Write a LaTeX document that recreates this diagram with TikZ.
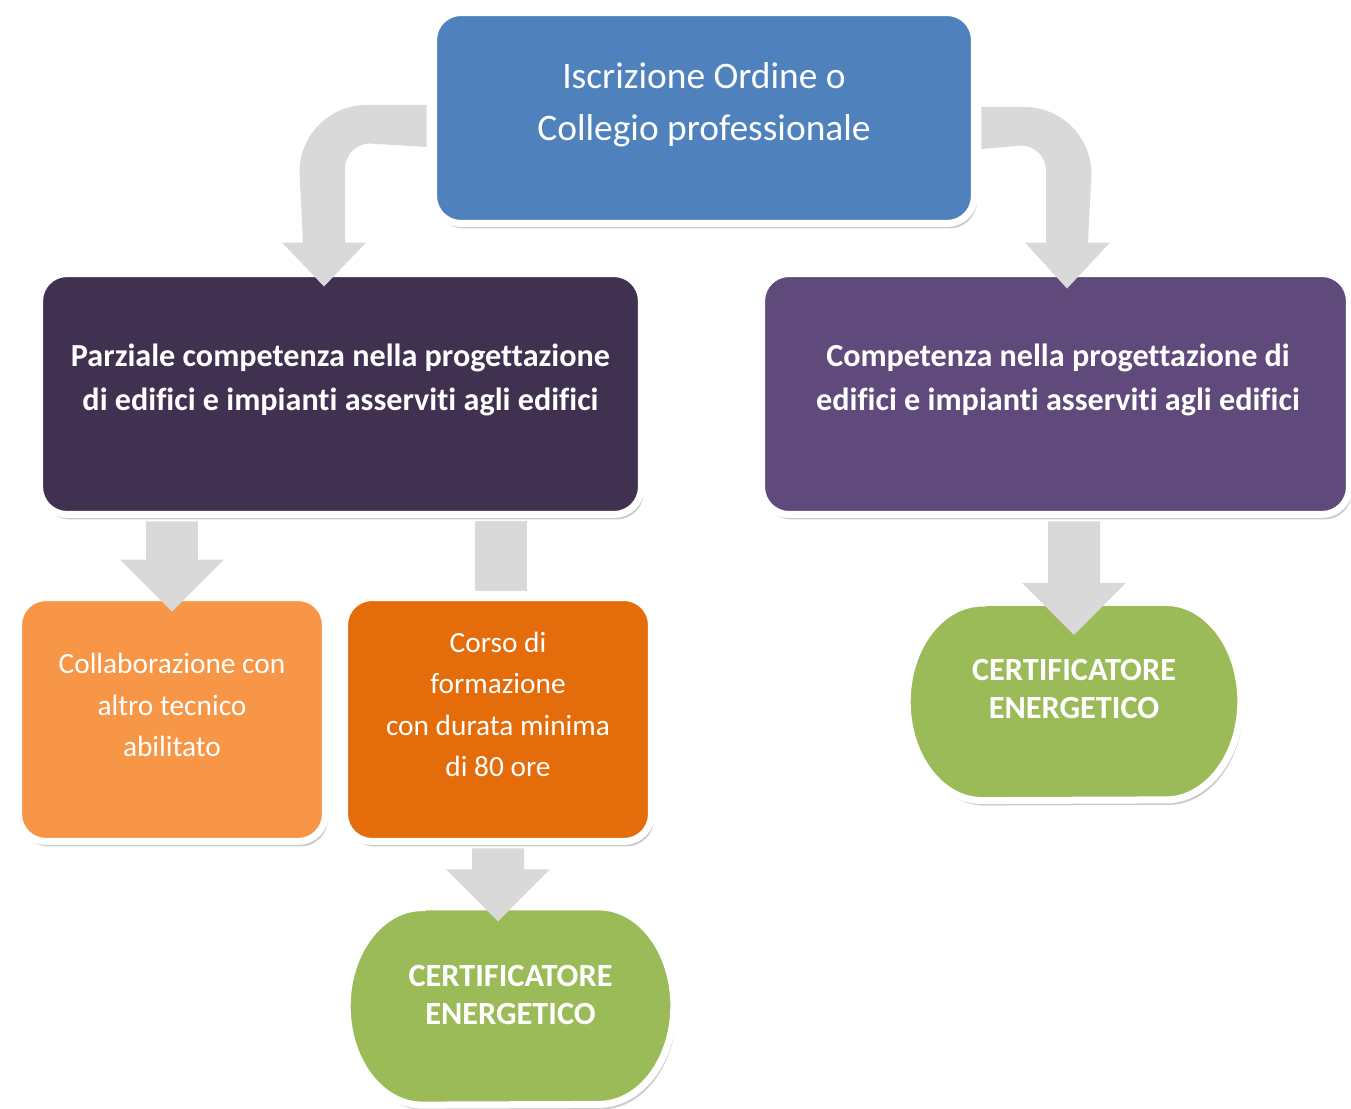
\documentclass[tikz,border=0pt]{standalone}
\usepackage{fontspec}
\setmainfont{Carlito}[Ligatures=NoCommon]
\usetikzlibrary{calc,shadows}

\definecolor{boxblue}{HTML}{4F81BD}
\definecolor{darkviolet}{HTML}{403151}
\definecolor{violet}{HTML}{604A7B}
\definecolor{lightorange}{HTML}{F79646}
\definecolor{darkorange}{HTML}{E46C0A}
\definecolor{certgreen}{HTML}{9BBB59}
\definecolor{arrowgray}{HTML}{D9D9D9}

\tikzset{
  box/.style={rectangle, rounded corners=0.55cm, draw=white, line width=0.14cm,
    drop shadow={opacity=0.45, fill=black!45, shadow xshift=0.05cm, shadow yshift=-0.1cm}},
  greenbox/.style={fill=certgreen, draw=white, line width=0.14cm,
    drop shadow={opacity=0.45, fill=black!45, shadow xshift=0.05cm, shadow yshift=-0.1cm}},
  txt/.style={text=white, align=center},
}

% block arrow: source, target, node giving x, tip depth into target
\newcommand\fatarrow[4]{%
  \fill[arrowgray] let \p1=(#1.south), \p2=(#2.north), \p3=(#3) in
    (\x3-0.52cm,\y1-0.07cm) -- (\x3-0.52cm,\y2-#4+1.04cm) -- (\x3-1.04cm,\y2-#4+1.04cm)
    -- (\x3,\y2-#4) -- (\x3+1.04cm,\y2-#4+1.04cm) -- (\x3+0.52cm,\y2-#4+1.04cm)
    -- (\x3+0.52cm,\y1-0.07cm) -- cycle;}

% green terminator shape around an empty node
\newcommand\greenshape[1]{%
  \path[greenbox] ([xshift=1.5cm]#1.north west) -- ([xshift=-1.5cm]#1.north east)
    arc[start angle=90, end angle=-90, x radius=1.5cm, y radius=1.975cm]
    -- ([xshift=1.5cm]#1.south west)
    arc[start angle=270, end angle=90, x radius=1.5cm, y radius=1.975cm] -- cycle;}

\begin{document}
\begin{tikzpicture}[x=0.02cm, y=-0.02cm]
    \useasboundingbox (0,0) rectangle (1351,1108);

    \node[box, fill=boxblue, minimum width=10.82cm, minimum height=4.22cm] at (704,118) (iscr) {};
    \node[box, fill=darkviolet, minimum width=12.04cm, minimum height=4.82cm] at (340.5,394) (parz) {};
    \node[box, fill=violet, minimum width=11.76cm, minimum height=4.82cm] at (1055.5,394) (comp) {};
    \node[box, fill=lightorange, minimum width=6.14cm, minimum height=4.88cm] at (172,719.5) (coll) {};
    \node[box, fill=darkorange, minimum width=6.14cm, minimum height=4.88cm] at (498,719.5) (corso) {};
    \node[minimum width=6.52cm, minimum height=3.95cm] at (510.5,1006) (certa) {};
    \node[minimum width=6.66cm, minimum height=3.95cm] at (1074,701.5) (certb) {};
    \greenshape{certa}
    \greenshape{certb}

    \node[txt, font=\fontsize{21.3}{29.5}\selectfont] at (704,105) (iscrtxt)
      {Iscrizione Ordine o\\Collegio professionale};
    \node[txt, font=\fontsize{18.3}{25.5}\selectfont\bfseries] at (340.5,380) (parztxt)
      {Parziale competenza nella progettazione\\di edifici e impianti asserviti agli edifici};
    \node[txt, font=\fontsize{18.3}{25.5}\selectfont\bfseries] at (1058,380) (comptxt)
      {Competenza nella progettazione di\\edifici e impianti asserviti agli edifici};
    \node[txt, font=\fontsize{16.7}{23.5}\selectfont] at (172,705) (colltxt)
      {Collaborazione con\\altro tecnico\\abilitato};
    \node[txt, font=\fontsize{16.7}{23.5}\selectfont] at (498,704.5) (corsotxt)
      {Corso di\\formazione\\con durata minima\\di 80 ore};
    \node[txt, font=\fontsize{18.4}{22}\selectfont\bfseries] at (510.5,995) (certatxt)
      {CERTIFICATORE\\ENERGETICO};
    \node[txt, font=\fontsize{18.4}{22}\selectfont\bfseries] at (1074,689) (certbtxt)
      {CERTIFICATORE\\ENERGETICO};

    % bent arrows from the top box
    \fill[arrowgray] ($(iscr.west)+(-3.5,-13)$) -- ++(-60,0)
      arc[start angle=90, end angle=180, radius=1.34cm]
      -- ($(parz.north)+(-37.5,-27.5)$) -- ++(-21,0) -- ($(parz.north)+(-16.5,16.5)$)
      -- ++(42,-44) -- ++(-21,0) -- ++(0,-74)
      arc[start angle=180, end angle=90, radius=0.5cm]
      -- ($(iscr.west)+(-3.5,29)$) -- cycle;
    \fill[arrowgray] ($(iscr.east)+(3.5,-11)$) -- ++(43,0)
      arc[start angle=90, end angle=0, radius=1.34cm]
      -- ($(comp.north)+(32.5,-27.5)$) -- ++(22,0) -- ($(comp.north)+(11.5,18.5)$)
      -- ++(-42,-46) -- ++(21,0) -- ++(0,-72)
      arc[start angle=0, end angle=90, radius=0.5cm]
      -- ($(iscr.east)+(3.5,31)$) -- cycle;

    % straight arrows
    \fatarrow{parz}{coll}{coll}{0.35cm}
    \fatarrow{comp}{certb}{certb}{0.65cm}
    \fatarrow{corso}{certa}{corso}{0.29cm}
    \fill[arrowgray] let \p1=(parz.south), \p2=(corso.north) in
      (\x2-0.46cm,\y1-0.07cm) rectangle (\x2+0.58cm,\y2+0.07cm);
\end{tikzpicture}
\end{document}
